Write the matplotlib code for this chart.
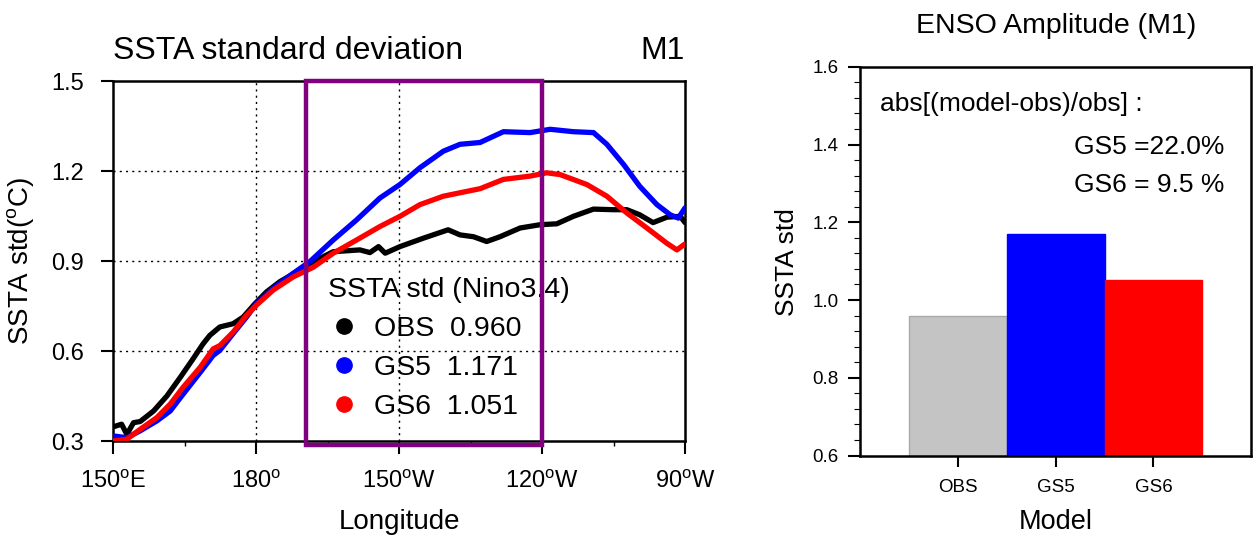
import matplotlib
matplotlib.use("Agg")
import matplotlib.pyplot as plt
from matplotlib.lines import Line2D
from matplotlib.patches import Rectangle

plt.rcParams['font.family'] = ['Liberation Sans', 'DejaVu Sans']
plt.rcParams['mathtext.fontset'] = 'custom'
plt.rcParams['mathtext.rm'] = 'Liberation Sans'

# SSTA std along the equator (longitude in degrees east)
obs_lon = [150.0, 151.8, 152.9, 154.3, 155.7, 158.5, 161.3, 164.1, 166.8, 168.9,
           170.3, 172.4, 175.2, 177.3, 179.8, 182.2, 185.0, 189.2, 191.3, 196.2,
           201.8, 203.9, 205.7, 207.1, 210.2, 215.1, 220.3, 222.8, 225.6, 228.4,
           231.2, 235.4, 239.6, 243.1, 246.6, 250.8, 254.9, 257.8, 260.5, 263.3,
           266.2, 269.0, 270.0]
obs_std = [0.347, 0.356, 0.322, 0.361, 0.365, 0.400, 0.450, 0.512, 0.574, 0.624,
           0.652, 0.680, 0.691, 0.713, 0.758, 0.797, 0.831, 0.870, 0.892, 0.931,
           0.937, 0.928, 0.948, 0.926, 0.948, 0.976, 1.004, 0.987, 0.981, 0.965,
           0.981, 1.010, 1.021, 1.024, 1.049, 1.073, 1.071, 1.071, 1.054, 1.028,
           1.046, 1.049, 1.028]

gs5_lon = [150.0, 152.9, 155.7, 159.2, 162.0, 164.7, 168.3, 171.0, 172.4, 175.2,
           178.0, 180.1, 183.6, 187.8, 191.3, 196.2, 201.1, 206.0, 210.2, 214.4,
           219.3, 222.8, 227.0, 231.9, 237.5, 241.7, 246.6, 250.8, 253.6, 257.1,
           260.5, 264.1, 266.9, 268.6, 270.0]
gs5_std = [0.317, 0.311, 0.334, 0.367, 0.400, 0.456, 0.529, 0.585, 0.602, 0.658,
           0.713, 0.758, 0.809, 0.859, 0.898, 0.970, 1.037, 1.110, 1.155, 1.211,
           1.266, 1.289, 1.295, 1.331, 1.328, 1.339, 1.331, 1.328, 1.289, 1.222,
           1.149, 1.088, 1.054, 1.043, 1.077]

gs6_lon = [150.0, 152.9, 155.7, 159.2, 162.0, 164.7, 168.3, 171.0, 172.4, 175.2,
           178.0, 180.1, 183.6, 187.8, 192.0, 196.2, 201.1, 206.0, 210.2, 214.4,
           219.3, 224.2, 227.0, 231.9, 237.5, 241.0, 243.8, 249.4, 253.6, 257.8,
           262.0, 266.2, 268.3, 270.0]
gs6_std = [0.300, 0.306, 0.339, 0.378, 0.423, 0.479, 0.546, 0.607, 0.618, 0.663,
           0.719, 0.753, 0.803, 0.847, 0.879, 0.926, 0.970, 1.015, 1.049, 1.088,
           1.116, 1.132, 1.141, 1.172, 1.183, 1.194, 1.188, 1.155, 1.116, 1.060,
           1.010, 0.959, 0.937, 0.957]

models = ['OBS', 'GS5', 'GS6']
colors = ['black', 'blue', 'red']
nino34_std = [0.960, 1.171, 1.051]
bar_colors = ['#c4c4c4', 'blue', 'red']
bar_edges = ['#a9a9a9', 'blue', 'red']
diff_text = ['GS5 =22.0%', 'GS6 = 9.5 %']

xticks = [150, 180, 210, 240, 270]
xticklabels = [r'150$^\mathrm{o}$E', r'180$^\mathrm{o}$', r'150$^\mathrm{o}$W',
               r'120$^\mathrm{o}$W', r'90$^\mathrm{o}$W']
yticks = [0.3, 0.6, 0.9, 1.2, 1.5]
nino34_box = (190.5, 240)

fig = plt.figure(figsize=(12.53, 5.37), dpi=100)

# ---- left: SSTA std along equator
ax1 = fig.add_axes([0.0902, 1 - 441 / 537, 0.4565, 360 / 537])
for lon, val, c in zip([obs_lon, gs5_lon, gs6_lon], [obs_std, gs5_std, gs6_std], colors):
    ax1.plot(lon, val, color=c, lw=3.8, solid_capstyle='round', zorder=3)

ax1.set_xlim(150, 270)
ax1.set_ylim(0.3, 1.5)
ax1.set_xticks(xticks)
ax1.set_xticklabels(xticklabels)
ax1.set_xticks([165, 195, 225, 255], minor=True)
ax1.set_yticks(yticks)
ax1.set_yticklabels(['%.1f' % v for v in yticks])
ax1.tick_params(which='major', direction='out', length=9, width=1.5, labelsize=17, pad=12)
ax1.tick_params(which='minor', direction='out', length=3.5, width=1)
for s in ax1.spines.values():
    s.set_linewidth(1.8)
for x in xticks[1:-1]:
    ax1.axvline(x, color='black', lw=1, ls=(0, (1.5, 3)), zorder=1)
for y in yticks[1:-1]:
    ax1.axhline(y, color='black', lw=1, ls=(0, (1.5, 3)), zorder=1)

ax1.add_patch(Rectangle((nino34_box[0], 0.288), nino34_box[1] - nino34_box[0], 1.212,
                        fill=False, edgecolor='#800080', lw=3.2, clip_on=False, zorder=5))

ax1.text(0.0, 1.084, 'SSTA standard deviation', transform=ax1.transAxes,
         fontsize=23, ha='left', va='center')
ax1.text(1.0, 1.084, 'M1', transform=ax1.transAxes, fontsize=23, ha='right', va='center')
ax1.set_xlabel('Longitude', fontsize=20)
ax1.xaxis.set_label_coords(0.5, -0.225)
ax1.xaxis.label.set_va('center')
ax1.set_ylabel(r'SSTA std($^\mathrm{o}$C)', fontsize=20)
ax1.yaxis.set_label_coords(-0.161, 0.5)
ax1.yaxis.label.set_va('center')

handles = [Line2D([], [], color=c, marker='o', ls='none', markersize=11) for c in colors]
labels = ['%s  %.3f' % (m, v) for m, v in zip(models, nino34_std)]
leg = ax1.legend(handles, labels, title='SSTA std (Nino3.4)', loc='upper left',
                 bbox_to_anchor=(0.376, 0.455), frameon=False, fontsize=20.5,
                 title_fontsize=20.5, borderpad=0, borderaxespad=0, labelspacing=0.45,
                 handlelength=1.15, handletextpad=0.45, alignment='left')
leg.set_zorder(4)

# ---- right: bar chart of Nino3.4 amplitude
ax2 = fig.add_axes([0.6864, 1 - 455.5 / 537, 0.3122, 388.7 / 537])
xpos = [1, 2, 3]
ax2.bar(xpos, [v - 0.6 for v in nino34_std], bottom=0.6, width=1.0,
        color=bar_colors, edgecolor=bar_edges, linewidth=1)
ax2.set_xlim(0, 4)
ax2.set_ylim(0.6, 1.6)
ax2.set_xticks(xpos)
ax2.set_xticklabels(models)
ax2.set_yticks([0.6, 0.8, 1.0, 1.2, 1.4, 1.6])
ax2.set_yticklabels(['0.6', '0.8', '1.0', '1.2', '1.4', '1.6'])
ax2.set_yticks([0.6 + 0.04 * i for i in range(26)], minor=True)
ax2.tick_params(axis='y', which='major', direction='out', length=8.5, width=1.5,
                labelsize=13.5, pad=7)
ax2.tick_params(axis='y', which='minor', direction='out', length=4, width=0.8)
ax2.tick_params(axis='x', which='major', direction='out', length=8, width=1.5,
                labelsize=13.5, pad=9)
for s in ax2.spines.values():
    s.set_linewidth(1.8)

ax2.text(0.051, 0.904, 'abs[(model-obs)/obs] :', transform=ax2.transAxes,
         fontsize=19, ha='left', va='center')
for i, t in enumerate(diff_text):
    ax2.text(0.548, 0.794 - 0.098 * i, t, transform=ax2.transAxes,
             fontsize=19, ha='left', va='center')

fig.text(0.8428, 1 - 25.7 / 537, 'ENSO Amplitude (M1)', fontsize=20.5, ha='center', va='center')
ax2.set_xlabel('Model', fontsize=19.5)
ax2.xaxis.set_label_coords(0.5, -0.171)
ax2.xaxis.label.set_va('center')
ax2.set_ylabel('SSTA std', fontsize=19)
ax2.yaxis.set_label_coords(-0.186, 0.498)
ax2.yaxis.label.set_va('center')

fig.savefig('out.png', dpi=100)
